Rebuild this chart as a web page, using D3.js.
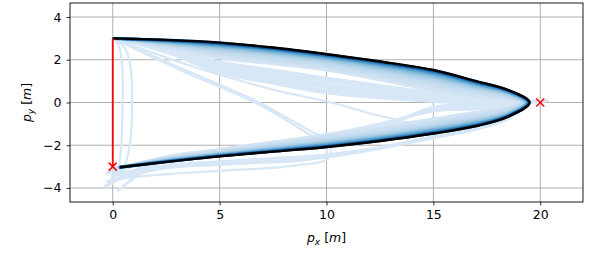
<!DOCTYPE html>
<html>
<head>
<meta charset="utf-8">
<script src="https://cdn.jsdelivr.net/npm/d3@7"></script>
<style>
  body { margin: 0; background: #fff; }
  text { font-family: "DejaVu Sans", sans-serif; }
</style>
</head>
<body>
<div id="chart"></div>
<script>
// trajectory iterations (light -> dark), final one drawn black
const colX = [2.5, 5, 7.5, 10, 12.5, 15, 17, 18.5];
const startPt = [0, 3];
const goalPt = [0, -3];
const targetPt = [20, 0];

// main bundle: y on the upper branch at colX, turning point, y on the lower branch at colX, end point
const iterTop = [
  [2.55, 2.08, 1.80, 1.52, 1.05, 0.55, 0.25, 0.12],
  [2.59, 2.15, 1.88, 1.59, 1.14, 0.65, 0.32, 0.17],
  [2.63, 2.22, 1.95, 1.67, 1.22, 0.74, 0.40, 0.21],
  [2.66, 2.30, 2.03, 1.74, 1.31, 0.84, 0.47, 0.26],
  [2.70, 2.37, 2.11, 1.82, 1.40, 0.94, 0.55, 0.30],
  [2.74, 2.44, 2.18, 1.89, 1.48, 1.03, 0.62, 0.35],
  [2.77, 2.50, 2.25, 1.95, 1.55, 1.11, 0.68, 0.39],
  [2.80, 2.56, 2.31, 2.01, 1.62, 1.19, 0.74, 0.42],
  [2.83, 2.61, 2.36, 2.06, 1.69, 1.26, 0.80, 0.46],
  [2.85, 2.66, 2.42, 2.11, 1.75, 1.33, 0.85, 0.49],
  [2.88, 2.70, 2.46, 2.16, 1.80, 1.38, 0.89, 0.52],
  [2.90, 2.74, 2.50, 2.19, 1.84, 1.43, 0.93, 0.54],
  [2.91, 2.76, 2.53, 2.22, 1.88, 1.47, 0.96, 0.56],
  [2.92, 2.79, 2.55, 2.25, 1.90, 1.50, 0.98, 0.57]
];
const iterNose = [
  [19.0, 0], [19.05, 0], [19.1, 0], [19.15, 0], [19.2, 0], [19.25, 0], [19.3, 0],
  [19.33, 0], [19.36, 0], [19.4, 0], [19.43, 0], [19.45, 0], [19.47, 0], [19.49, 0]
];
const iterBot = [
  [-2.55, -2.20, -1.85, -1.50, -1.15, -0.75, -0.45, -0.20],
  [-2.57, -2.23, -1.89, -1.56, -1.21, -0.82, -0.51, -0.25],
  [-2.60, -2.26, -1.94, -1.62, -1.28, -0.89, -0.58, -0.29],
  [-2.62, -2.30, -1.98, -1.67, -1.34, -0.96, -0.64, -0.34],
  [-2.64, -2.33, -2.03, -1.73, -1.41, -1.03, -0.71, -0.38],
  [-2.66, -2.36, -2.07, -1.79, -1.47, -1.10, -0.77, -0.43],
  [-2.68, -2.39, -2.11, -1.84, -1.53, -1.16, -0.83, -0.47],
  [-2.70, -2.41, -2.15, -1.88, -1.58, -1.21, -0.88, -0.50],
  [-2.72, -2.43, -2.18, -1.92, -1.62, -1.26, -0.92, -0.54],
  [-2.73, -2.46, -2.21, -1.96, -1.67, -1.31, -0.97, -0.57],
  [-2.75, -2.48, -2.24, -2.00, -1.71, -1.35, -1.01, -0.60],
  [-2.76, -2.49, -2.26, -2.03, -1.74, -1.39, -1.04, -0.62],
  [-2.77, -2.50, -2.28, -2.05, -1.77, -1.41, -1.07, -0.64],
  [-2.78, -2.51, -2.29, -2.07, -1.79, -1.44, -1.09, -0.65]
];
const iterEnd = [
  [0.10, -3.10], [0.12, -3.09], [0.15, -3.08], [0.17, -3.07], [0.20, -3.06], [0.22, -3.05], [0.24, -3.05],
  [0.26, -3.04], [0.28, -3.04], [0.29, -3.03], [0.30, -3.03], [0.31, -3.03], [0.32, -3.03], [0.33, -3.03]
];
const iterShade = [0.17, 0.19, 0.21, 0.23, 0.26, 0.29, 0.33, 0.38, 0.44, 0.51, 0.59, 0.67, 0.76, 0.86];

// final trajectory
const finalTop = [2.93, 2.80, 2.57, 2.26, 1.92, 1.52, 1.00, 0.58];
const finalNose = [19.5, 0];
const finalBot = [-2.78, -2.52, -2.30, -2.08, -1.80, -1.45, -1.10, -0.66];
const finalEnd = [0.33, -3.03];

// early light iterations (second band, overshoot past target, outside the final curve)
const earlyTop = [
  [2.50, 1.90, 1.52, 1.14, 0.80, 0.45, 0.22, 0.12],
  [2.47, 1.80, 1.38, 1.00, 0.68, 0.37, 0.17, 0.09],
  [2.44, 1.70, 1.25, 0.86, 0.56, 0.29, 0.13, 0.07],
  [2.41, 1.60, 1.12, 0.72, 0.44, 0.21, 0.09, 0.05],
  [2.38, 1.50, 1.00, 0.58, 0.32, 0.13, 0.05, 0.03],
  [2.35, 1.40, 0.90, 0.45, 0.22, 0.05, 0.00, 0.01],
  [2.48, 1.85, 1.45, 1.07, 0.74, 0.41, 0.20, 0.10],
  [2.42, 1.65, 1.18, 0.79, 0.50, 0.25, 0.11, 0.06]
];
const earlyNose = [[19.3, 0.02], [19.45, 0.02], [19.6, 0.03], [19.9, 0.05], [20.2, 0.07], [20.35, 0.08], [19.2, 0], [19.3, 0]];
const earlyBot = [
  [-2.55, -2.20, -1.85, -1.50, -1.00, -0.40, -0.30, -0.20],
  [-2.56, -2.22, -1.88, -1.55, -1.05, -0.37, -0.26, -0.16],
  [-2.58, -2.24, -1.91, -1.58, -1.08, -0.33, -0.22, -0.13],
  [-2.60, -2.27, -1.95, -1.63, -1.12, -0.29, -0.17, -0.09],
  [-2.61, -2.29, -1.98, -1.67, -1.16, -0.25, -0.12, -0.06],
  [-2.62, -2.30, -2.00, -1.70, -1.20, -0.22, -0.09, -0.04],
  [-2.95, -2.77, -2.62, -2.45, -2.10, -1.60, -1.22, -0.74],
  [-3.05, -2.90, -2.75, -2.55, -2.15, -1.65, -1.25, -0.75]
];
const earlyEnd = [[0.0, -3.3], [-0.3, -3.3], [0.4, -3.6], [0.2, -4.15], [-0.2, -3.8], [-0.4, -3.95], [-0.1, -3.45], [-0.3, -3.7]];

// stray iterations drawn point by point
const strays = [
  [[0, 3], [3.2, 1.5], [6.75, -0.05], [8.8, -1.25], [9.9, -2.0], [10.0, -2.45], [9, -2.7], [6, -2.85], [3, -3.0], [0.1, -3.3]],
  [[0, 3], [3.2, 1.6], [6.75, 0.05], [8.9, -1.15], [10.1, -1.9], [10.1, -2.6], [8.5, -2.95], [5, -3.2], [2.5, -3.35], [-0.1, -3.6]],
  [[0, 3], [4, 1.6], [7.5, 0.6], [10.2, 0.0], [12.2, -0.55], [14, -1.05], [12.5, -1.3], [10, -1.6], [7.5, -1.95], [5, -2.25], [2.5, -2.6], [0.15, -3.15]],
  [[0, 3], [0.3, 2.6], [0.45, 1.5], [0.45, -0.5], [0.4, -2.0], [0.3, -2.9], [0.1, -3.5]],
  [[0, 3], [0.6, 2.5], [0.85, 1.5], [0.9, -0.5], [0.8, -2.0], [0.55, -3.0], [0.2, -3.7]]
];

const xTicks = [0, 5, 10, 15, 20];
const yTicks = [-4, -2, 0, 2, 4];

const W = 598, H = 265;
const margin = { top: 3, right: 15, bottom: 63, left: 70 };
const width = W - margin.left - margin.right;
const height = H - margin.top - margin.bottom;

const x = d3.scaleLinear().domain([-2, 22]).range([0, width]);
const y = d3.scaleLinear().domain([-4.655, 4.655]).range([height, 0]);

const svg = d3.select("#chart").append("svg")
  .attr("width", W)
  .attr("height", H);

svg.append("defs").append("clipPath")
  .attr("id", "plot-clip")
  .append("rect")
  .attr("width", width)
  .attr("height", height);

const g = svg.append("g")
  .attr("transform", `translate(${margin.left},${margin.top})`);

// grid
g.append("g")
  .selectAll("line")
  .data(xTicks)
  .join("line")
  .attr("x1", d => x(d)).attr("x2", d => x(d))
  .attr("y1", 0).attr("y2", height)
  .attr("stroke", "#b0b0b0")
  .attr("stroke-width", 1);

g.append("g")
  .selectAll("line")
  .data(yTicks)
  .join("line")
  .attr("x1", 0).attr("x2", width)
  .attr("y1", d => y(d)).attr("y2", d => y(d))
  .attr("stroke", "#b0b0b0")
  .attr("stroke-width", 1);

const line = d3.line()
  .x(d => x(d[0]))
  .y(d => y(d[1]))
  .curve(d3.curveCatmullRom.alpha(0.5));

function loopPoints(top, nose, bot, end) {
  const upper = colX.map((cx, k) => [cx, top[k]]);
  const lower = colX.map((cx, k) => [cx, bot[k]]).reverse();
  return [startPt, ...upper, nose, ...lower, end];
}

const plot = g.append("g").attr("clip-path", "url(#plot-clip)");

const lightColor = d3.interpolateBlues(0.16);

plot.selectAll("path.stray")
  .data(strays)
  .join("path")
  .attr("class", "stray")
  .attr("d", line)
  .attr("fill", "none")
  .attr("stroke", lightColor)
  .attr("stroke-width", 2.2);

plot.selectAll("path.early")
  .data(earlyTop.map((t, i) => loopPoints(t, earlyNose[i], earlyBot[i], earlyEnd[i])))
  .join("path")
  .attr("class", "early")
  .attr("d", line)
  .attr("fill", "none")
  .attr("stroke", lightColor)
  .attr("stroke-width", 3);

plot.selectAll("path.iter")
  .data(iterTop.map((t, i) => loopPoints(t, iterNose[i], iterBot[i], iterEnd[i])))
  .join("path")
  .attr("class", "iter")
  .attr("d", line)
  .attr("fill", "none")
  .attr("stroke", (d, i) => d3.interpolateBlues(iterShade[i]))
  .attr("stroke-width", 2.8);

plot.append("path")
  .attr("d", line(loopPoints(finalTop, finalNose, finalBot, finalEnd)))
  .attr("fill", "none")
  .attr("stroke", "#000")
  .attr("stroke-width", 2.4);

// straight start-goal segment
plot.append("line")
  .attr("x1", x(startPt[0])).attr("y1", y(startPt[1]))
  .attr("x2", x(goalPt[0])).attr("y2", y(goalPt[1]))
  .attr("stroke", "red")
  .attr("stroke-width", 1.8);

// x markers
const s = 4;
[goalPt, targetPt].forEach(p => {
  const cx = x(p[0]), cy = y(p[1]);
  plot.append("path")
    .attr("d", `M${cx - s},${cy - s}L${cx + s},${cy + s}M${cx - s},${cy + s}L${cx + s},${cy - s}`)
    .attr("stroke", "red")
    .attr("stroke-width", 1.5)
    .attr("fill", "none");
});

// axes
const xAxis = g.append("g")
  .attr("transform", `translate(0,${height})`)
  .call(d3.axisBottom(x).tickValues(xTicks).tickSize(3.5).tickPadding(5));
const yAxis = g.append("g")
  .call(d3.axisLeft(y).tickValues(yTicks).tickSize(3.5).tickPadding(5)
    .tickFormat(d => d < 0 ? "\u2212" + Math.abs(d) : d));

[xAxis, yAxis].forEach(a => {
  a.select(".domain").remove();
  a.selectAll("text").attr("font-size", 12.5).attr("fill", "#000")
    .attr("font-family", "DejaVu Sans, sans-serif");
  a.selectAll("line").attr("stroke", "#000").attr("stroke-width", 0.8);
});

g.append("rect")
  .attr("width", width)
  .attr("height", height)
  .attr("fill", "none")
  .attr("stroke", "#000")
  .attr("stroke-width", 0.9);

// axis labels
const xl = svg.append("text")
  .attr("x", margin.left + width / 2)
  .attr("y", 242)
  .attr("text-anchor", "middle")
  .attr("font-size", 12.5);
xl.append("tspan").attr("font-style", "italic").text("p");
xl.append("tspan").attr("font-style", "italic").attr("font-size", 9).attr("dy", 2.5).text("x");
xl.append("tspan").attr("dy", -2.5).text(" [");
xl.append("tspan").attr("font-style", "italic").text("m");
xl.append("tspan").text("]");

const yl = svg.append("text")
  .attr("transform", `translate(31,${margin.top + height / 2}) rotate(-90)`)
  .attr("text-anchor", "middle")
  .attr("font-size", 12.5);
yl.append("tspan").attr("font-style", "italic").text("p");
yl.append("tspan").attr("font-style", "italic").attr("font-size", 9).attr("dy", 2.5).text("y");
yl.append("tspan").attr("dy", -2.5).text(" [");
yl.append("tspan").attr("font-style", "italic").text("m");
yl.append("tspan").text("]");
</script>
</body>
</html>
